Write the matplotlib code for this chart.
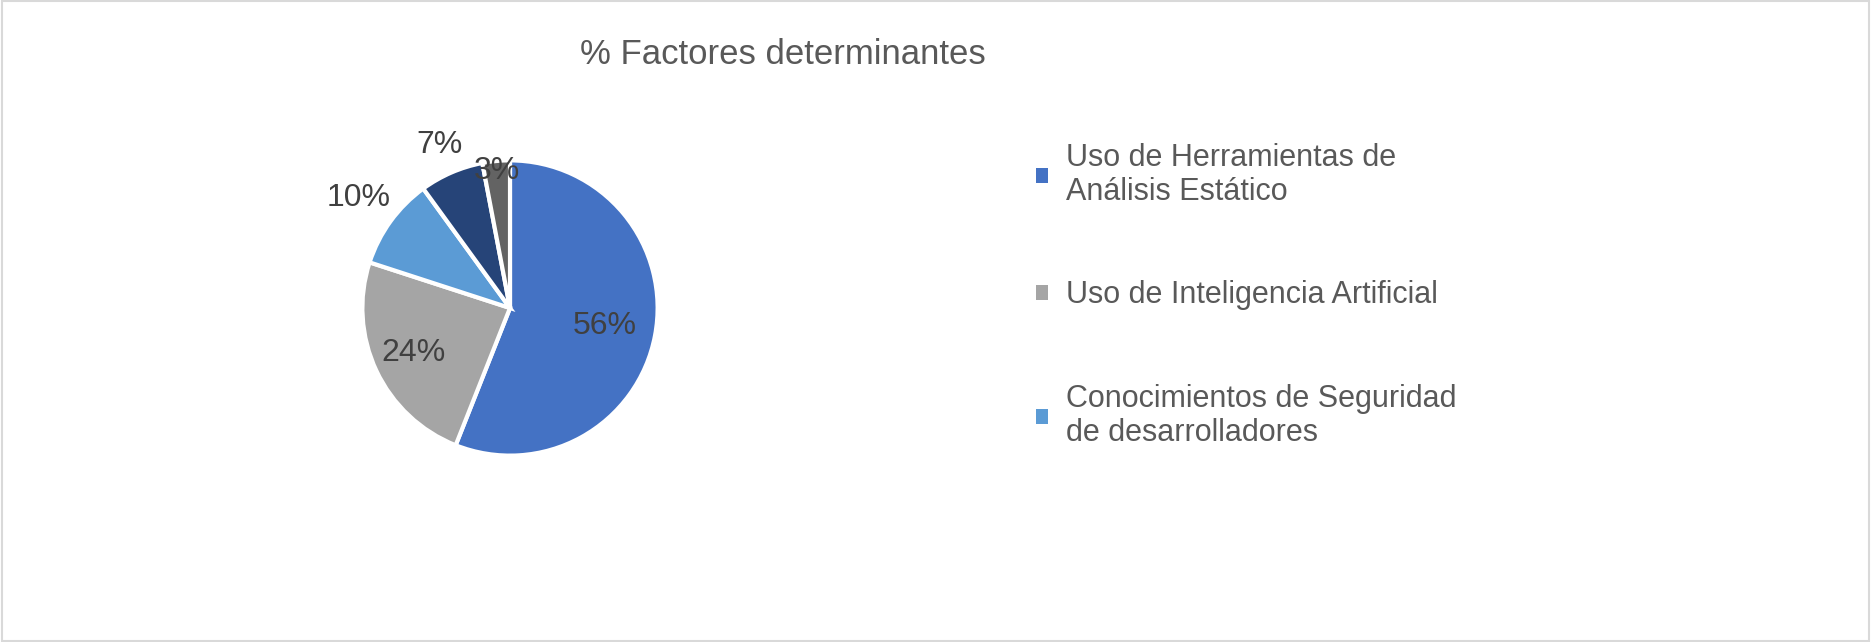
import numpy as np
import matplotlib.pyplot as plt
from matplotlib.patches import Patch, Rectangle

plt.rcParams['font.family'] = ['Liberation Sans', 'DejaVu Sans']

# Data
labels = ['Uso de Herramientas de\nAnálisis Estático',
          'Uso de Inteligencia Artificial',
          'Conocimientos de Seguridad\nde desarrolladores',
          'Otros 1', 'Otros 2']
values = [56, 24, 10, 7, 3]
colors = ['#4472C4', '#A5A5A5', '#5B9BD5', '#264478', '#636363']
label_dist = [0.65, 0.72, 1.27, 1.2, 0.93]

fig = plt.figure(figsize=(18.71, 6.42), dpi=100)
fig.patches.append(Rectangle((0.001, 0.002), 0.998, 0.996, transform=fig.transFigure,
                             fill=False, edgecolor='#D9D9D9', linewidth=1.5))

ax = fig.add_axes([355 / 1871, (642 - 308 - 155) / 642, 310 / 1871, 310 / 642])
wedges, _ = ax.pie(values, colors=colors, startangle=90, counterclock=False,
                   wedgeprops=dict(edgecolor='white', linewidth=3))
ax.set_xlim(-1.05, 1.05)
ax.set_ylim(-1.05, 1.05)

# Percentage labels
total = sum(values)
start = 90
for v, d in zip(values, label_dist):
    mid = np.deg2rad(start - v / total * 180)
    start -= v / total * 360
    ax.text(d * np.cos(mid), d * np.sin(mid), f'{v}%', ha='center', va='center',
            fontsize=23, color='#404040')

fig.text(783 / 1871, 1 - 55 / 642, '% Factores determinantes', ha='center', va='center',
         fontsize=25, color='#595959')

handles = [Patch(facecolor=c) for c in colors[:3]]
fig.legend(handles, labels[:3], loc='upper left', bbox_to_anchor=(1008 / 1871, 1 - 115 / 642),
           frameon=False, fontsize=22, labelcolor='#595959', handlelength=0.4,
           handleheight=0.4, handletextpad=0.6, labelspacing=2.4)

fig.savefig('out.png', dpi=100)
